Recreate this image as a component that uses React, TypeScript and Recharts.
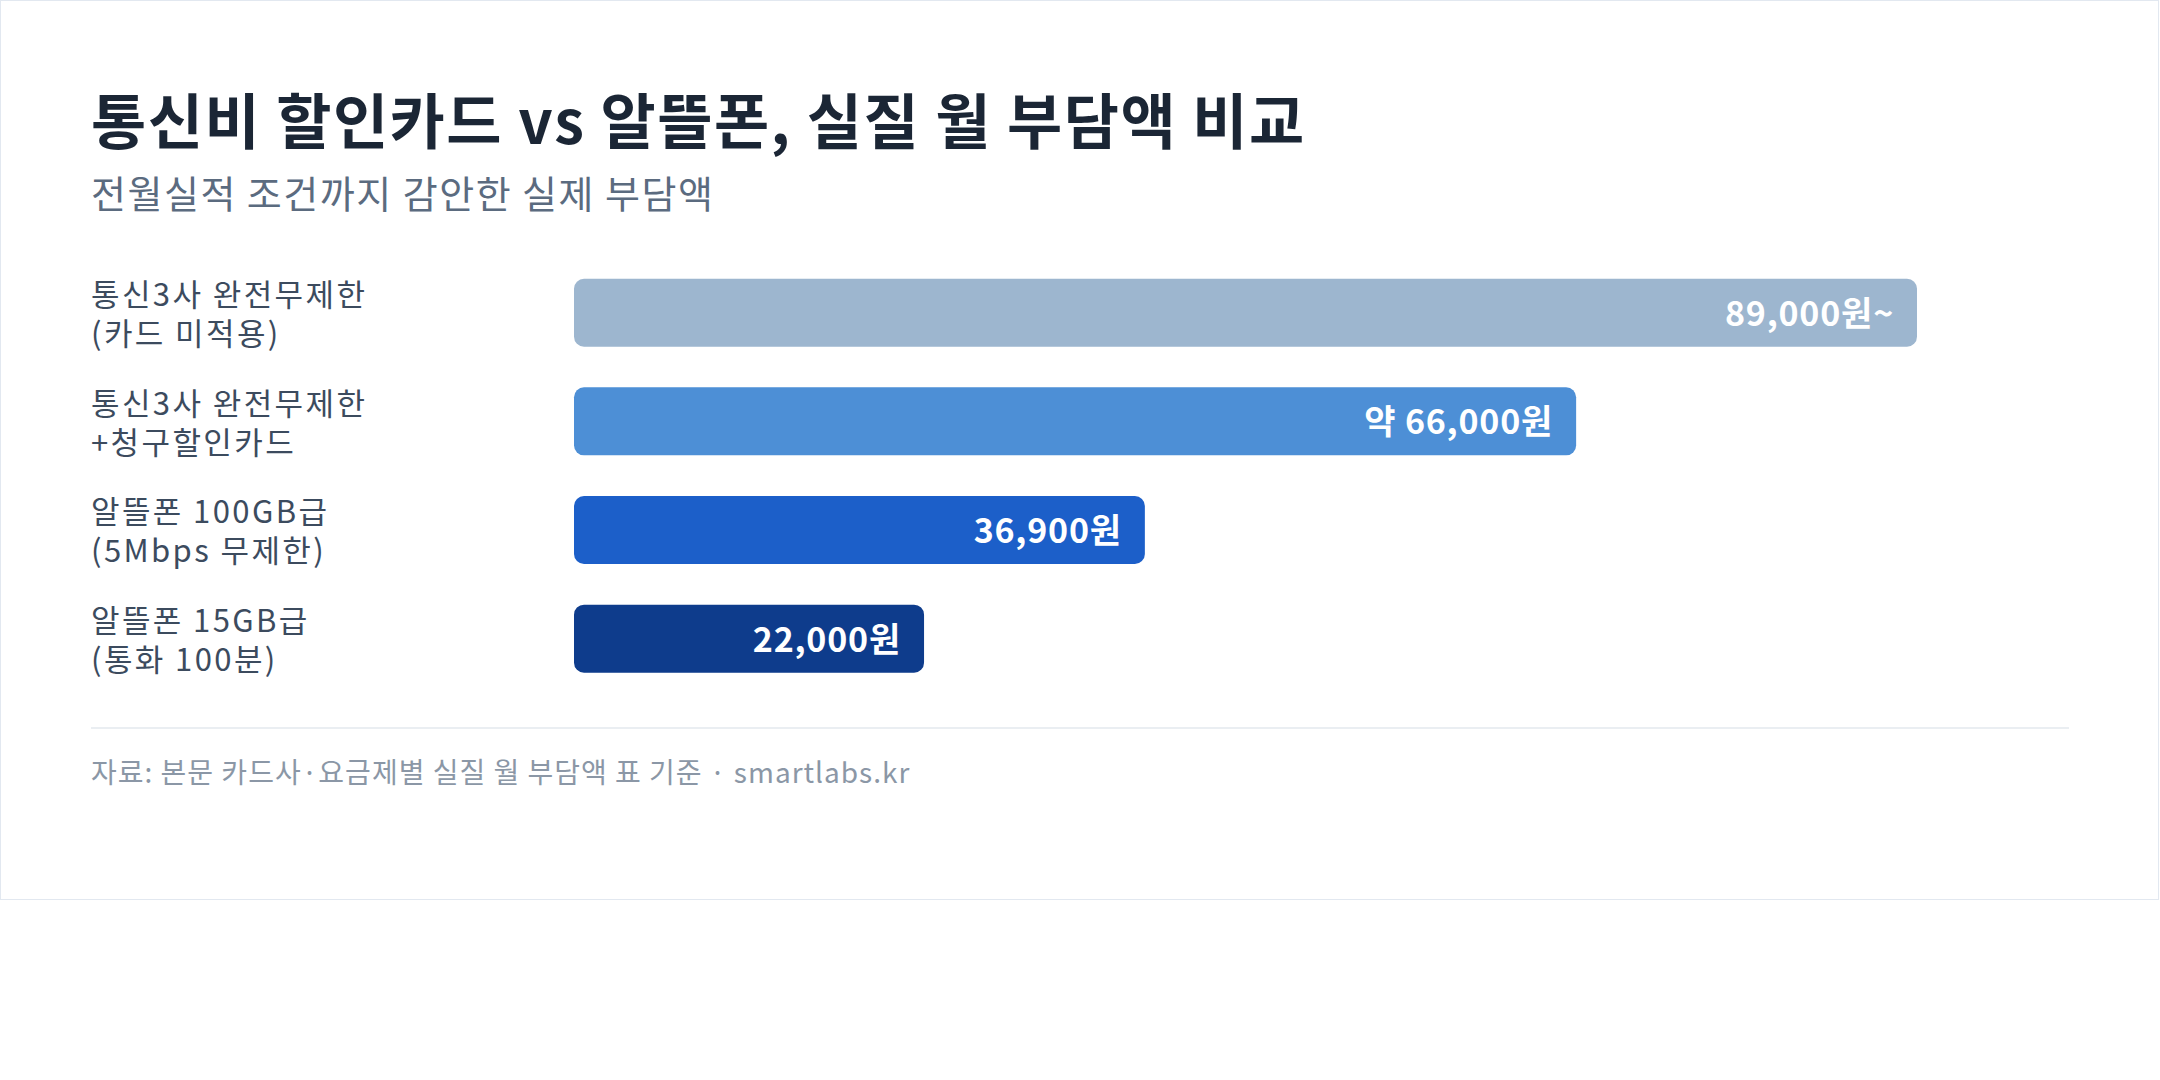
import React from 'react';
import { BarChart, Bar, XAxis, YAxis, LabelList, Rectangle } from 'recharts';

// categories (two-line labels), monthly cost in KRW, printed value labels
const CATEGORIES = [
  '통신3사 완전무제한\n(카드 미적용)',
  '통신3사 완전무제한\n+청구할인카드',
  '알뜰폰 100GB급\n(5Mbps 무제한)',
  '알뜰폰 15GB급\n(통화 100분)',
];
const MONTHLY_COST = [89000, 66000, 36900, 22000];
const VALUE_LABELS = ['89,000원~', '약 66,000원', '36,900원', '22,000원'];
const BAR_COLORS = ['#9db6cf', '#4d8fd6', '#1c5fc9', '#0e3c8c'];

const data = CATEGORIES.map((name, i) => ({
  name,
  value: MONTHLY_COST[i],
  label: VALUE_LABELS[i],
}));

const FONT = '"Noto Sans CJK KR", "Noto Sans", sans-serif';
const CARD_W = 2159;
const CARD_H = 900;
const PAD_X = 91;
const BAR_PAD = 12; // inner padding on each side of a bar, like css padding

const CategoryTick = (props: any) => {
  const { y, payload } = props;
  const [line1, line2] = String(payload.value).split('\n');
  const common = {
    x: PAD_X,
    fill: '#3c4b5e',
    fontSize: 31,
    letterSpacing: 2.4,
    fontFamily: FONT,
    textAnchor: 'start' as const,
  };
  return (
    <g>
      <text {...common} y={y - 7}>{line1}</text>
      <text {...common} y={y + 32}>{line2}</text>
    </g>
  );
};

const PaddedBar = (props: any) => {
  const { x, y, width, height, index } = props;
  return (
    <Rectangle
      x={x}
      y={y}
      width={width + BAR_PAD * 2}
      height={height}
      radius={10}
      fill={BAR_COLORS[index]}
    />
  );
};

const ValueLabel = (props: any) => {
  const { x, y, width, height, value } = props;
  return (
    <text
      x={x + width + BAR_PAD * 2 - 23}
      y={y + height / 2 + 13}
      textAnchor="end"
      fill="#ffffff"
      fontSize={34}
      letterSpacing={0.8}
      fontWeight={700}
      fontFamily={FONT}
    >
      {value}
    </text>
  );
};

export default function App() {
  return (
    <div
      style={{
        position: 'absolute',
        left: 0,
        top: 0,
        width: CARD_W,
        height: CARD_H,
        background: '#fff',
        outline: '1px solid #e2e8f0',
        outlineOffset: -1,
        fontFamily: FONT,
      }}
    >
      <div
        style={{
          position: 'absolute',
          left: PAD_X,
          top: 88,
          fontSize: 60,
          lineHeight: '60px',
          letterSpacing: 1.5,
          fontWeight: 700,
          color: '#1b2635',
          whiteSpace: 'nowrap',
        }}
      >
        통신비 할인카드 vs 알뜰폰, 실질 월 부담액 비교
      </div>
      <div
        style={{
          position: 'absolute',
          left: PAD_X,
          top: 173,
          fontSize: 38,
          lineHeight: '38px',
          letterSpacing: 1.5,
          color: '#5b6b7f',
          whiteSpace: 'nowrap',
        }}
      >
        전월실적 조건까지 감안한 실제 부담액
      </div>

      <div style={{ position: 'absolute', left: 0, top: 0 }}>
        <BarChart
          width={CARD_W}
          height={CARD_H}
          data={data}
          layout="vertical"
          margin={{ top: 258.7, bottom: 206.7, left: 0, right: 266 }}
        >
          <XAxis type="number" hide domain={[0, Math.max(...MONTHLY_COST)]} />
          <YAxis
            type="category"
            dataKey="name"
            width={574}
            axisLine={false}
            tickLine={false}
            interval={0}
            tick={<CategoryTick />}
          />
          <Bar dataKey="value" barSize={68} shape={<PaddedBar />} isAnimationActive={false}>
            <LabelList dataKey="label" content={<ValueLabel />} />
          </Bar>
        </BarChart>
      </div>

      <div
        style={{
          position: 'absolute',
          left: PAD_X,
          top: 727,
          width: 1978,
          height: 2,
          background: '#eaeef2',
        }}
      />
      <div
        style={{
          position: 'absolute',
          left: PAD_X,
          top: 757,
          fontSize: 28,
          lineHeight: '28px',
          letterSpacing: 1,
          color: '#8b97a6',
          whiteSpace: 'nowrap',
        }}
      >
        자료: 본문 카드사·요금제별 실질 월 부담액 표 기준 · smartlabs.kr
      </div>
    </div>
  );
}
